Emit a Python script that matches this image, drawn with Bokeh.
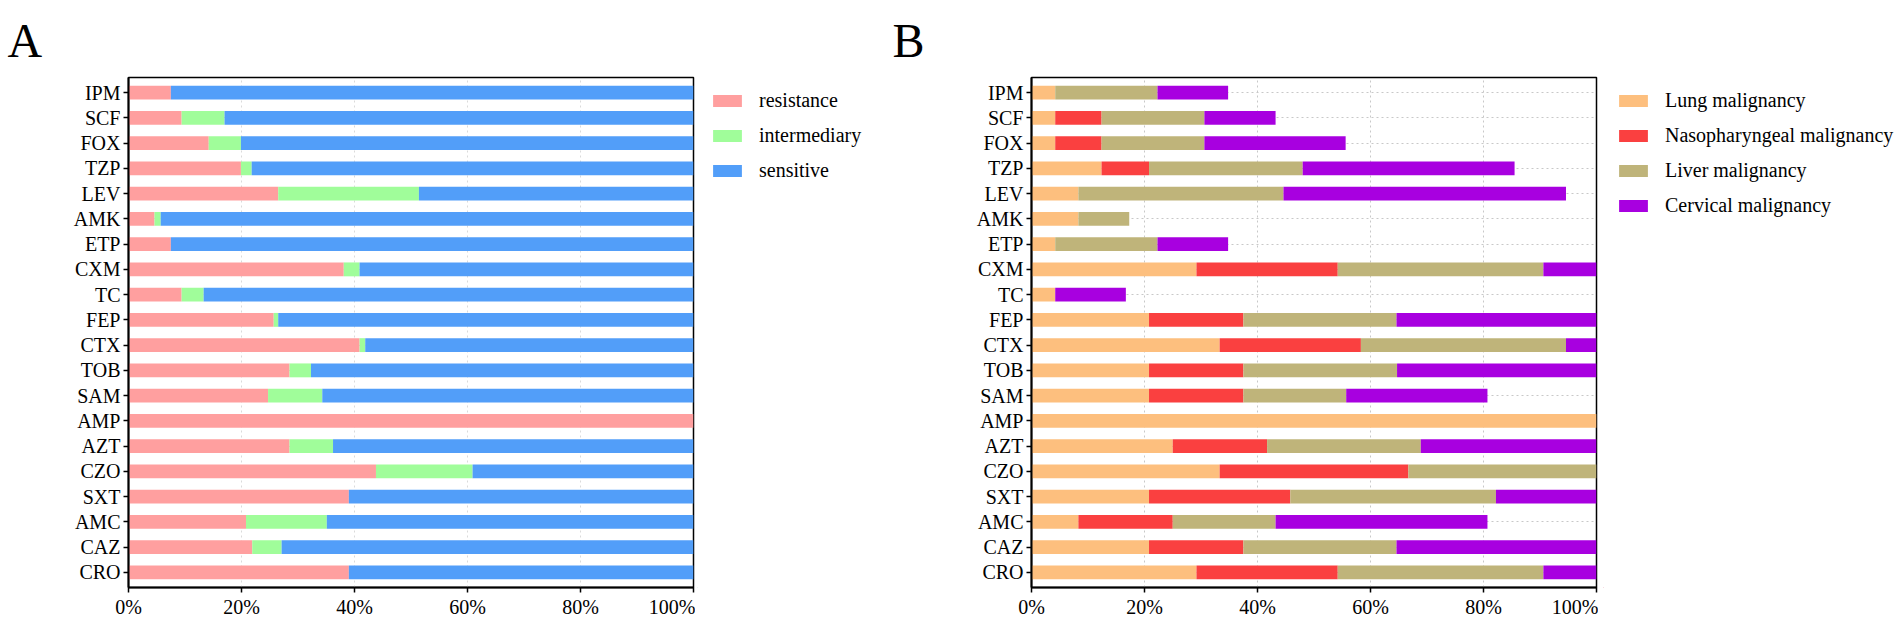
from bokeh.plotting import figure
from bokeh.layouts import row
from bokeh.models import (Range1d, FactorRange, Legend, LegendItem, Title,
                          FixedTicker, PrintfTickFormatter, ColumnDataSource)
from bokeh.core.properties import value
from bokeh.embed import file_html
from bokeh.resources import INLINE

# ---------------- data ----------------
drugs = ["IPM", "SCF", "FOX", "TZP", "LEV", "AMK", "ETP", "CXM", "TC", "FEP",
         "CTX", "TOB", "SAM", "AMP", "AZT", "CZO", "SXT", "AMC", "CAZ", "CRO"]

# Panel A (% of isolates)
resistance = [7.5, 9.4, 14.2, 19.9, 26.5, 4.6, 7.5, 38.1, 9.4, 25.7,
              40.9, 28.5, 24.7, 100.0, 28.5, 43.8, 39.0, 20.8, 21.9, 39.0]
intermediary = [0.0, 7.6, 5.7, 1.9, 24.9, 1.1, 0.0, 2.8, 3.9, 0.8,
                1.0, 3.8, 9.6, 0.0, 7.7, 17.1, 0.0, 14.3, 5.2, 0.0]
sensitive = [round(100 - r - i, 1) for r, i in zip(resistance, intermediary)]

# Panel B (% by malignancy)
lung = [4.2, 4.2, 4.2, 12.4, 8.3, 8.3, 4.2, 29.2, 4.2, 20.8,
        33.3, 20.8, 20.8, 100.0, 25.0, 33.3, 20.8, 8.3, 20.8, 29.2]
nasopharyngeal = [0.0, 8.2, 8.2, 8.4, 0.0, 0.0, 0.0, 25.0, 0.0, 16.7,
                  25.0, 16.7, 16.7, 0.0, 16.7, 33.4, 25.0, 16.7, 16.7, 25.0]
liver = [18.1, 18.2, 18.2, 27.2, 36.3, 9.0, 18.1, 36.4, 0.0, 27.1,
         36.3, 27.2, 18.2, 0.0, 27.2, 33.3, 36.4, 18.2, 27.1, 36.4]
cervical = [12.5, 12.6, 25.0, 37.5, 50.0, 0.0, 12.5, 9.4, 12.5, 35.4,
            5.4, 35.3, 25.0, 0.0, 31.1, 0.0, 17.8, 37.5, 35.4, 9.4]

labels_A = ["resistance", "intermediary", "sensitive"]
colors_A = ["#FF9F9F", "#A0FD9A", "#529EF9"]
labels_B = ["Lung malignancy", "Nasopharyngeal malignancy",
            "Liver malignancy", "Cervical malignancy"]
colors_B = ["#FDBF7E", "#FA4040", "#BFB47A", "#A800E0"]

x_ticks = [0, 20, 40, 60, 80, 100]

FONT = "Liberation Serif"
H = 620         # height of every figure in the row


def make_panel(keys, colors, data, width, border_left, grid_color):
    src = ColumnDataSource(dict(drug=drugs, **{k: v for k, v in zip(keys, data)}))
    p = figure(width=width, height=H, title=None, output_backend="svg",
               toolbar_location=None,
               y_range=FactorRange(factors=drugs[::-1], range_padding=0.1,
                                   range_padding_units="absolute"),
               x_range=Range1d(0, 100),
               min_border_left=border_left, min_border_right=2,
               min_border_top=77, min_border_bottom=32)
    p.hbar_stack(keys, y="drug", height=0.55, color=colors,
                 line_color=None, source=src)

    p.outline_line_color = "black"
    p.outline_line_width = 1.5
    p.background_fill_color = "white"
    p.border_fill_color = "white"

    p.xaxis.ticker = FixedTicker(ticks=x_ticks)
    p.xaxis.formatter = PrintfTickFormatter(format="%d%%")
    for ax in (p.xaxis[0], p.yaxis[0]):
        ax.axis_line_color = "black"
        ax.axis_line_width = 2
        ax.major_tick_line_color = "black"
        ax.major_tick_line_width = 1.5
        ax.major_tick_out = 5
        ax.major_tick_in = 0
        ax.minor_tick_line_color = None
        ax.major_label_text_font = FONT
        ax.major_label_text_font_size = "20px"
        ax.major_label_text_color = "black"
        ax.major_label_standoff = 3

    p.xgrid.grid_line_color = grid_color
    p.xgrid.grid_line_dash = "2 3"
    p.xgrid.grid_line_width = 1
    p.ygrid.grid_line_color = grid_color
    p.ygrid.grid_line_dash = "2 3"
    p.ygrid.grid_line_width = 1
    return p


def make_legend(labels, colors, width, border_left):
    # frame of this figure is aligned with the chart frame (top at 77)
    q = figure(width=width, height=H, title=None, output_backend="svg",
               toolbar_location=None,
               x_axis_type=None, y_axis_type=None,
               x_range=Range1d(0, 1), y_range=Range1d(0, 1),
               min_border_left=border_left, min_border_top=0, min_border_right=0,
               min_border_bottom=0)
    q.outline_line_color = None
    q.grid.visible = False
    items = []
    for lab, col in zip(labels, colors):
        # legend-only renderer, its bar lies outside the visible range
        r = q.hbar(y=[-10], left=[-20], right=[-15], height=0.5,
                   color=col, line_color=None)
        items.append(LegendItem(label=lab, renderers=[r]))
    leg = Legend(items=items, location="top_left",
                 glyph_width=36, glyph_height=15, label_standoff=14,
                 label_text_font=FONT, label_text_font_size="20px",
                 label_text_color="black",
                 label_height=20, spacing=12, padding=0, margin=12,
                 border_line_alpha=0, background_fill_alpha=0)
    q.add_layout(leg)
    return q


def make_letter(letter, width, x):
    f = figure(width=width, height=H, title=None, output_backend="svg",
               toolbar_location=None,
               x_axis_type=None, y_axis_type=None,
               x_range=Range1d(0, width), y_range=Range1d(0, H),
               min_border_left=0, min_border_right=0, min_border_top=0,
               min_border_bottom=0)
    f.outline_line_color = None
    f.grid.visible = False
    try:
        # let this figure's frame fill the whole canvas
        f.frame_align = False
        f.text(x=[x], y=[H - 40], text=[letter],
               text_font=value(FONT), text_font_size="48px",
               text_baseline="alphabetic", text_align="left", text_color="black")
    except Exception:
        f.add_layout(Title(text=letter, align="left", offset=x, standoff=20,
                           text_font=FONT, text_font_size="48px",
                           text_font_style="normal", text_color="black"), "above")
    return f


fA = make_letter("A", 60, 7)
pA = make_panel(["resistance", "intermediary", "sensitive"], colors_A,
                [resistance, intermediary, sensitive],
                width=635, border_left=68, grid_color="#DADADA")
lA = make_legend(labels_A, colors_A, width=185, border_left=2)

fB = make_letter("B", 60, 12)
pB = make_panel(["lung", "naso", "liver", "cervical"], colors_B,
                [lung, nasopharyngeal, liver, cervical],
                width=658, border_left=91, grid_color="#C8C8C8")
lB = make_legend(labels_B, colors_B, width=300, border_left=5)

layout = row(fA, pA, lA, fB, pB, lB)
open("out.html", "w").write(file_html(layout, INLINE))
